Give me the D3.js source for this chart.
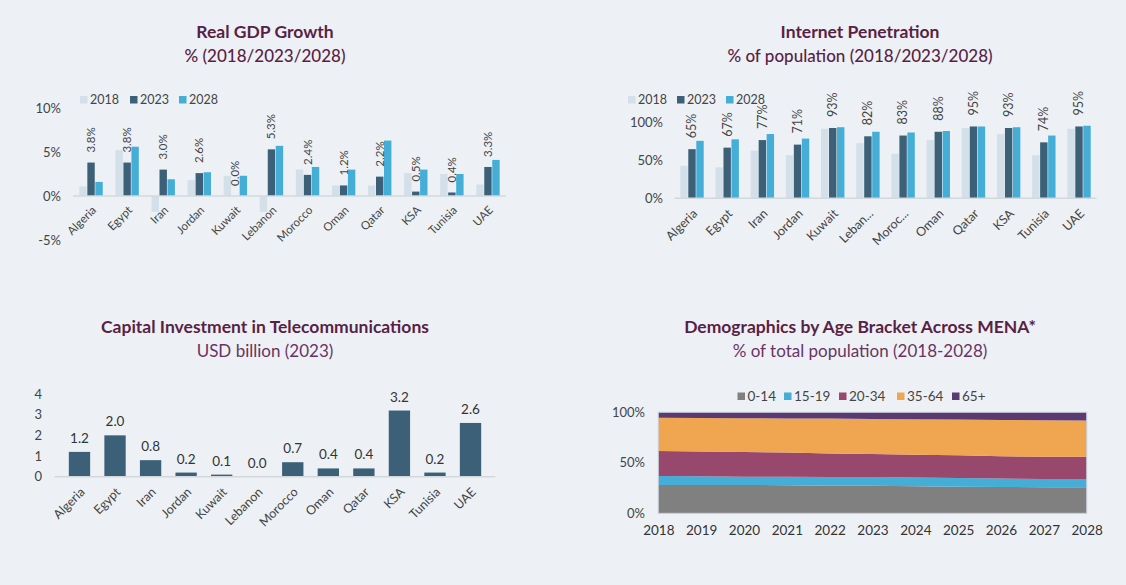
<!DOCTYPE html>
<html><head><meta charset="utf-8">
<script src="https://cdn.jsdelivr.net/npm/d3@7"></script>
<style>
html,body{margin:0;padding:0;background:#edf1f5;}
svg{display:block;font-family:Lato,"Open Sans",sans-serif;}
</style></head><body>
<svg id="c" width="1126" height="585"></svg>
<script>
// ---------- DATA ----------
const countries = ["Algeria","Egypt","Iran","Jordan","Kuwait","Lebanon","Morocco","Oman","Qatar","KSA","Tunisia","UAE"];
const netLabels = ["Algeria","Egypt","Iran","Jordan","Kuwait","Leban...","Moroc...","Oman","Qatar","KSA","Tunisia","UAE"];
const years3 = ["2018","2023","2028"];
const gdp2018 = [1.1, 5.2, -1.8, 1.8, 2.3, -1.8, 3.0, 1.2, 1.2, 2.6, 2.5, 1.3];
const gdp2023 = [3.8, 3.8, 3.0, 2.6, 0.0, 5.3, 2.4, 1.2, 2.2, 0.5, 0.4, 3.3];
const gdp2028 = [1.6, 5.6, 1.9, 2.7, 2.3, 5.7, 3.3, 3.0, 6.3, 3.0, 2.5, 4.1];
const gdpTicks = [-5, 0, 5, 10];
const net2018 = [43, 41, 63, 57, 92, 73, 59, 77, 93, 85, 57, 92];
const net2023 = [65, 67, 77, 71, 93, 82, 83, 88, 95, 93, 74, 95];
const net2028 = [76, 78, 85, 79, 94, 88, 87, 89, 95, 94, 83, 96];
const netTicks = [0, 50, 100];
const capex = [1.2, 2.0, 0.8, 0.2, 0.1, 0.0, 0.7, 0.4, 0.4, 3.2, 0.2, 2.6];
const capexTicks = [0, 1, 2, 3, 4];
const demoYears = [2018,2019,2020,2021,2022,2023,2024,2025,2026,2027,2028];
const ageGroups = ["0-14","15-19","20-34","35-64","65+"];
const age0_14  = [28.0,28.0,28.0,27.8,27.4,27.2,26.8,26.4,26.0,25.8,25.7];
const age15_19 = [9.0, 8.6, 8.2, 8.4, 8.6, 8.7, 8.6, 8.6, 8.4, 8.2, 8.3];
const age20_34 = [24.7,24.6,24.6,24.0,23.2,22.8,22.6,22.4,22.1,22.0,22.0];
const age35_64 = [32.9,33.2,33.3,33.7,34.6,34.7,35.1,35.4,35.9,36.1,36.0];
const age65p   = [5.4, 5.6, 5.9, 6.1, 6.2, 6.6, 6.9, 7.2, 7.6, 7.9, 8.0];
const demoTicks = [0, 50, 100];

// ---------- STYLE ----------
const cLight = "#d3e0ea", cDark = "#3b6078", cBlue = "#45aed6";
const yearColors = [cLight, cDark, cBlue];
const ageColors = ["#808080", "#45aed6", "#98476d", "#f0a551", "#5b3a73"];
const titleC = "#5a1f45", subC = "#6a3462", textC = "#444", axisC = "#d3d8dd";

const svg = d3.select("#c");

function titles(cx, y, t, s, subWeight, subColor){
  svg.append("text").attr("x", cx).attr("y", y).attr("text-anchor","middle")
    .attr("font-size", 17.5).attr("font-weight", 700).attr("fill", titleC).text(t);
  svg.append("text").attr("x", cx).attr("y", y+24).attr("text-anchor","middle")
    .attr("font-size", 17).attr("font-weight", subWeight).attr("fill", subColor).text(s);
}
titles(265, 38, "Real GDP Growth", "% (2018/2023/2028)", 500, titleC);
titles(860, 38, "Internet Penetration", "% of population (2018/2023/2028)", 500, titleC);
titles(265, 333, "Capital Investment in Telecommunications", "USD billion (2023)", 400, subC);
titles(860, 333, "Demographics by Age Bracket Across MENA*", "% of total population (2018-2028)", 400, subC);

function legend(items, colors, positions, y, fs){
  const g = svg.append("g");
  items.forEach((d,i)=>{
    g.append("rect").attr("x", positions[i]).attr("y", y-4).attr("width", 7.5).attr("height", 7.5).attr("fill", colors[i]);
    g.append("text").attr("x", positions[i]+10).attr("y", y).attr("dy","0.35em")
      .attr("font-size", fs).attr("fill", textC).text(d);
  });
}

// ---------- grouped bar chart helper ----------
function grouped(opts){
  const {range, yDomain, yRange, series, labels, labelVals, ticks, tickFmt, xlabOffset, xlabFs, labFmt, labGap, labFs, tickX} = opts;
  const x = d3.scaleBand().domain(countries).range(range).padding(0);
  const y = d3.scaleLinear().domain(yDomain).range(yRange);
  const sub = d3.scaleBand().domain(years3).range([-12, 12]).padding(0);
  const g = svg.append("g");
  const yAxis = d3.axisLeft(y).tickValues(ticks).tickFormat(tickFmt).tickSize(0).tickPadding(0);
  const ga = g.append("g").attr("transform", `translate(${tickX},0)`).call(yAxis);
  ga.select(".domain").remove();
  ga.selectAll("text").attr("font-size", 13).attr("fill", textC).attr("font-family","Lato, sans-serif");
  countries.forEach((c,i)=>{
    series.forEach((s,j)=>{
      const v = s[i];
      g.append("rect")
        .attr("x", x(c) + x.bandwidth()/2 + sub(years3[j]) + 0.3)
        .attr("width", sub.bandwidth() - 0.6)
        .attr("y", y(Math.max(0, v)))
        .attr("height", Math.abs(y(v) - y(0)))
        .attr("fill", yearColors[j]);
    });
  });
  g.append("line").attr("x1", range[0]).attr("x2", range[1]).attr("y1", y(0)).attr("y2", y(0))
    .attr("stroke", axisC).attr("stroke-width", 1.5);
  countries.forEach((c,i)=>{
    const v = labelVals[i];
    const cx = x(c) + x.bandwidth()/2;
    const top = y(Math.max(0, v)) - labGap;
    g.append("text").attr("transform", `translate(${cx},${top}) rotate(-90)`)
      .attr("dy", "0.35em").attr("font-size", labFs).attr("fill", textC).text(labFmt(v));
  });
  countries.forEach((c,i)=>{
    const cx = x(c) + x.bandwidth()/2;
    g.append("text").attr("transform", `translate(${cx+3},${y(0)+xlabOffset}) rotate(-45)`)
      .attr("text-anchor","end").attr("dy","0.35em").attr("font-size", xlabFs).attr("fill", textC).text(labels[i]);
  });
}

// Chart 1
legend(years3, yearColors, [80, 130, 179], 100, 12.5);
grouped({range:[73,506], yDomain:[-5,10], yRange:[240,108], series:[gdp2018,gdp2023,gdp2028],
  labels: countries, labelVals: gdp2023, ticks: gdpTicks, tickFmt: d=>d+"%", xlabOffset: 12, xlabFs: 11.5,
  labFmt: v=>v.toFixed(1)+"%", labGap: 10, labFs: 11.5, tickX: 61});

// Chart 2
legend(years3, yearColors, [628, 677, 726], 100, 12.5);
grouped({range:[674.4,1096.6], yDomain:[0,100], yRange:[198.3,122.7], series:[net2018,net2023,net2028],
  labels: netLabels, labelVals: net2023, ticks: netTicks, tickFmt: d=>d+"%", xlabOffset: 13, xlabFs: 12.5,
  labFmt: v=>v+"%", labGap: 11, labFs: 12.5, tickX: 663});

// Chart 3
(function(){
  const x = d3.scaleBand().domain(countries).range([54.6,495.4]).padding(0.4);
  const y = d3.scaleLinear().domain([0,4]).range([476.7,394]);
  const g = svg.append("g");
  const ga = g.append("g").attr("transform","translate(42,0)")
    .call(d3.axisLeft(y).tickValues(capexTicks).tickFormat(d3.format("d")).tickSize(0).tickPadding(0));
  ga.select(".domain").remove();
  ga.selectAll("text").attr("font-size", 13).attr("fill", textC).attr("font-family","Lato, sans-serif");
  g.selectAll("rect.b").data(capex).join("rect").attr("class","b")
    .attr("x",(d,i)=>x(countries[i])).attr("width", x.bandwidth())
    .attr("y", d=>y(d)).attr("height", d=>y(0)-y(d)).attr("fill", cDark);
  g.append("line").attr("x1",54.6).attr("x2",495.4).attr("y1",y(0)).attr("y2",y(0))
    .attr("stroke", axisC).attr("stroke-width",1.5);
  g.selectAll("text.v").data(capex).join("text").attr("class","v")
    .attr("x",(d,i)=>x(countries[i])+x.bandwidth()/2).attr("y", d=>y(d)-9)
    .attr("text-anchor","middle").attr("font-size",13.5).attr("fill","#333").text(d=>d.toFixed(1));
  countries.forEach((c,i)=>{
    const cx = x(c)+x.bandwidth()/2;
    g.append("text").attr("transform",`translate(${cx+3},${y(0)+13}) rotate(-45)`)
      .attr("text-anchor","end").attr("dy","0.35em").attr("font-size",12.5).attr("fill",textC).text(c);
  });
})();

// Chart 4
(function(){
  const x = d3.scaleLinear().domain([2018,2028]).range([658.3,1086.7]);
  const y = d3.scaleLinear().domain([0,100]).range([513.3,412.3]);
  const rows = demoYears.map((yr,i)=>({year:yr, "0-14":age0_14[i], "15-19":age15_19[i], "20-34":age20_34[i], "35-64":age35_64[i], "65+":age65p[i]}));
  const stack = d3.stack().keys(ageGroups)(rows);
  const area = d3.area().x(d=>x(d.data.year)).y0(d=>y(d[0])).y1(d=>y(d[1]));
  const g = svg.append("g");
  g.selectAll("path.a").data(stack).join("path").attr("class","a")
    .attr("d", area).attr("fill",(d,i)=>ageColors[i]);
  g.append("rect").attr("x",x(2018)).attr("y",y(100)).attr("width",x(2028)-x(2018)).attr("height",y(0)-y(100))
    .attr("fill","none").attr("stroke","#c9ced6").attr("stroke-width",1);
  const ga = g.append("g").attr("transform","translate(645,0)")
    .call(d3.axisLeft(y).tickValues(demoTicks).tickFormat(d=>d+"%").tickSize(0).tickPadding(0));
  ga.select(".domain").remove();
  ga.selectAll("text").attr("font-size",13).attr("fill",textC).attr("font-family","Lato, sans-serif");
  const gx = g.append("g").attr("transform",`translate(0,${y(0)+17})`)
    .call(d3.axisBottom(x).tickValues(demoYears).tickFormat(d3.format("d")).tickSize(0).tickPadding(0));
  gx.select(".domain").remove();
  gx.selectAll("text").attr("font-size",13.5).attr("fill","#333").attr("font-family","Lato, sans-serif").attr("dy","0.35em");
  legend(ageGroups, ageColors, [737.5, 784, 839, 897, 952], 396.5, 13.5);
})();
</script>
</body></html>
